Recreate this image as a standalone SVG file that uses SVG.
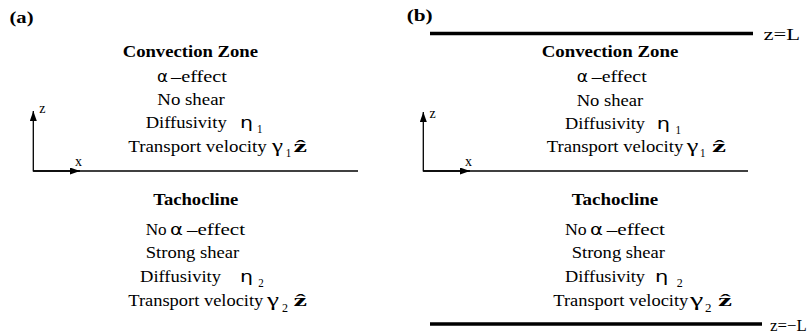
<svg xmlns="http://www.w3.org/2000/svg" width="808" height="333" viewBox="0 0 808 333">
<defs>
<style>
.t{font-family:"Liberation Serif","Times New Roman",serif;font-size:16px;fill:#000}
.b{font-weight:bold}
.g{font-family:"DejaVu Sans","Liberation Sans",sans-serif;font-size:16px;fill:#000}
.gs{font-family:"Liberation Serif","DejaVu Serif",serif;font-size:18px;fill:#000}
.s{font-size:12px}
.ax{font-size:14px}
.zh{font-family:"Liberation Serif","DejaVu Serif",serif;font-weight:bold;font-size:17px;fill:#000}
.ln{stroke:#000;stroke-width:1.3;fill:none}
.thick{stroke:#000;stroke-width:3.6;fill:none}
</style>
<marker id="ah" viewBox="0 0 10 7" refX="10" refY="3.5" markerWidth="10" markerHeight="7" markerUnits="userSpaceOnUse" orient="auto">
<path d="M0,0 L10,3.5 L0,7 z" fill="#000"/>
</marker>
</defs>
<rect width="808" height="333" fill="#fff"/>

<!-- Panel (a) -->
<g id="panel-a-label"><text class="t b" x="9.5" y="23" textLength="24" lengthAdjust="spacingAndGlyphs">(a)</text></g>

<g id="a-convection">
<text class="t b" x="122.7" y="57.3" textLength="135.3" lengthAdjust="spacingAndGlyphs">Convection Zone</text>
<text class="g" x="157" y="81.7" textLength="11" lengthAdjust="spacingAndGlyphs">α</text>
<text class="t" x="171" y="81.7" textLength="56" lengthAdjust="spacingAndGlyphs">–effect</text>
<text class="t" x="157.3" y="105" textLength="67.5" lengthAdjust="spacingAndGlyphs">No shear</text>
<text class="t" x="145.7" y="128.3" textLength="81" lengthAdjust="spacingAndGlyphs">Diffusivity</text>
<text class="g" x="240" y="128.3" textLength="13" lengthAdjust="spacingAndGlyphs">η</text>
<text class="t s" x="257" y="133.3" textLength="5.5" lengthAdjust="spacingAndGlyphs">1</text>
<text class="t" x="128.3" y="151.7" textLength="138.5" lengthAdjust="spacingAndGlyphs">Transport velocity</text>
<text class="gs" x="272" y="151.7" textLength="11" lengthAdjust="spacingAndGlyphs">γ</text>
<text class="t s" x="285.7" y="157" textLength="5.5" lengthAdjust="spacingAndGlyphs">1</text>
<text class="zh" x="293.5" y="151.7" textLength="13.5" lengthAdjust="spacingAndGlyphs">ẑ</text>
</g>

<g id="a-tachocline">
<text class="t b" x="153.3" y="205" textLength="85" lengthAdjust="spacingAndGlyphs">Tachocline</text>
<text class="t" x="145.7" y="235" textLength="21" lengthAdjust="spacingAndGlyphs">No</text>
<text class="g" x="170" y="235" textLength="13" lengthAdjust="spacingAndGlyphs">α</text>
<text class="t" x="187" y="235" textLength="58" lengthAdjust="spacingAndGlyphs">–effect</text>
<text class="t" x="145.7" y="258.3" textLength="93.5" lengthAdjust="spacingAndGlyphs">Strong shear</text>
<text class="t" x="140" y="281.7" textLength="81" lengthAdjust="spacingAndGlyphs">Diffusivity</text>
<text class="g" x="240" y="281.7" textLength="13" lengthAdjust="spacingAndGlyphs">η</text>
<text class="t s" x="258.3" y="286.7" textLength="5.5" lengthAdjust="spacingAndGlyphs">2</text>
<text class="t" x="128.3" y="306" textLength="135" lengthAdjust="spacingAndGlyphs">Transport velocity</text>
<text class="gs" x="267" y="306" textLength="12" lengthAdjust="spacingAndGlyphs">γ</text>
<text class="t s" x="282" y="311.7" textLength="6" lengthAdjust="spacingAndGlyphs">2</text>
<text class="zh" x="293.5" y="306" textLength="13.5" lengthAdjust="spacingAndGlyphs">ẑ</text>
</g>

<g id="a-axes">
<text class="t ax" x="39.3" y="113">z</text>
<text class="t ax" x="75" y="165.7">x</text>
</g>

<!-- Panel (b) -->
<g id="panel-b-label"><text class="t b" x="406.7" y="21" textLength="26" lengthAdjust="spacingAndGlyphs">(b)</text></g>

<g id="b-top-boundary">
<text class="t" x="763.5" y="40" textLength="36.5" lengthAdjust="spacingAndGlyphs">z=L</text>
</g>

<g id="b-convection">
<text class="t b" x="541.7" y="57.3" textLength="136.6" lengthAdjust="spacingAndGlyphs">Convection Zone</text>
<text class="g" x="576.7" y="81.7" textLength="11.3" lengthAdjust="spacingAndGlyphs">α</text>
<text class="t" x="591.7" y="81.7" textLength="55" lengthAdjust="spacingAndGlyphs">–effect</text>
<text class="t" x="576.7" y="105.5" textLength="66.6" lengthAdjust="spacingAndGlyphs">No shear</text>
<text class="t" x="565" y="129.3" textLength="80" lengthAdjust="spacingAndGlyphs">Diffusivity</text>
<text class="g" x="656.7" y="129.3" textLength="13.3" lengthAdjust="spacingAndGlyphs">η</text>
<text class="t s" x="675.5" y="133.7" textLength="5.5" lengthAdjust="spacingAndGlyphs">1</text>
<text class="t" x="546.7" y="151.7" textLength="136.6" lengthAdjust="spacingAndGlyphs">Transport velocity</text>
<text class="gs" x="686.7" y="151.7" textLength="11.6" lengthAdjust="spacingAndGlyphs">γ</text>
<text class="t s" x="700" y="157" textLength="5.5" lengthAdjust="spacingAndGlyphs">1</text>
<text class="zh" x="712" y="151.7" textLength="14" lengthAdjust="spacingAndGlyphs">ẑ</text>
</g>

<g id="b-tachocline">
<text class="t b" x="571.7" y="205" textLength="86.6" lengthAdjust="spacingAndGlyphs">Tachocline</text>
<text class="t" x="565" y="235" textLength="21.7" lengthAdjust="spacingAndGlyphs">No</text>
<text class="g" x="590" y="235" textLength="13" lengthAdjust="spacingAndGlyphs">α</text>
<text class="t" x="606.7" y="235" textLength="58.3" lengthAdjust="spacingAndGlyphs">–effect</text>
<text class="t" x="571.7" y="258.3" textLength="93.3" lengthAdjust="spacingAndGlyphs">Strong shear</text>
<text class="t" x="565" y="281.7" textLength="80" lengthAdjust="spacingAndGlyphs">Diffusivity</text>
<text class="g" x="655" y="281.7" textLength="13.3" lengthAdjust="spacingAndGlyphs">η</text>
<text class="t s" x="676.7" y="286.7" textLength="6" lengthAdjust="spacingAndGlyphs">2</text>
<text class="t" x="553.3" y="306" textLength="135" lengthAdjust="spacingAndGlyphs">Transport velocity</text>
<text class="gs" x="690" y="306" textLength="13.3" lengthAdjust="spacingAndGlyphs">γ</text>
<text class="t s" x="705" y="311.7" textLength="6.5" lengthAdjust="spacingAndGlyphs">2</text>
<text class="zh" x="718" y="306" textLength="14" lengthAdjust="spacingAndGlyphs">ẑ</text>
</g>

<g id="b-bottom-boundary">
<text class="t" x="770" y="330.7" textLength="36.7" lengthAdjust="spacingAndGlyphs">z=−L</text>
</g>

<g id="b-axes">
<text class="t ax" x="429.5" y="117.7">z</text>
<text class="t ax" x="465" y="165.7">x</text>
</g>

<!-- Connectors / lines -->
<g id="connectors">
<line class="ln" x1="33.3" y1="171" x2="358" y2="171"/>
<line class="ln" x1="33.3" y1="171.6" x2="33.3" y2="111" marker-end="url(#ah)"/>
<line class="ln" x1="33.3" y1="171" x2="80" y2="171" marker-end="url(#ah)"/>
<line class="ln" x1="423.3" y1="171" x2="748" y2="171"/>
<line class="ln" x1="423.3" y1="171.6" x2="423.3" y2="112" marker-end="url(#ah)"/>
<line class="ln" x1="423.3" y1="171" x2="470" y2="171" marker-end="url(#ah)"/>
<line class="thick" x1="430" y1="33.5" x2="753" y2="33.5"/>
<line class="thick" x1="430" y1="324" x2="762" y2="324"/>
</g>
</svg>
